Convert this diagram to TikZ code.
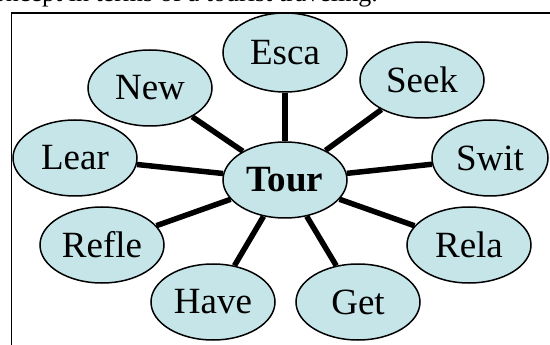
\documentclass[tikz,border=0pt]{standalone}
\usepackage{fontspec}
\setmainfont{Liberation Serif}
\usetikzlibrary{shapes.geometric}
\definecolor{bubble}{RGB}{197,229,232}
\tikzset{
  bub/.style={ellipse, draw=black, line width=1.5pt, fill=bubble, minimum width=124pt, minimum height=76pt, inner sep=0pt, font=\fontsize{37}{40}\selectfont},
  spoke/.style={line width=5.5pt, black},
}
\begin{document}
\begin{tikzpicture}[x=1pt,y=-1pt]
\useasboundingbox (0,0) rectangle (550,345);
\clip (0,0) rectangle (550,345);
\node[anchor=base east, inner sep=0pt, font=\fontsize{26}{30}\selectfont] (cap) at (378,1.5) {concept in terms of a tourist traveling.};
\draw[line width=1.5pt] (560,13) -- (11.5,13) -- (11.5,360);
\node[bub, font=\fontsize{37}{40}\selectfont\bfseries] (tour) at (285,180) {Tour};
\node[bub, minimum height=79pt] (esca) at (285,52.5) {Esca};
\node[bub] (new) at (150,88) {New};
\node[bub] (seek) at (422,80) {Seek};
\node[bub] (lear) at (75,158) {Lear};
\node[bub, minimum width=116pt] (swit) at (490,158) {Swit};
\node[bub] (refle) at (102,245) {Refle};
\node[bub] (rela) at (469,245) {Rela};
\node[bub] (have) at (213,302) {Have};
\node[bub] (get) at (358,302) {Get};
\foreach \n in {esca,new,seek,lear,swit,refle,rela,have,get}
  \draw[spoke] (tour) -- (\n);
\end{tikzpicture}
\end{document}
